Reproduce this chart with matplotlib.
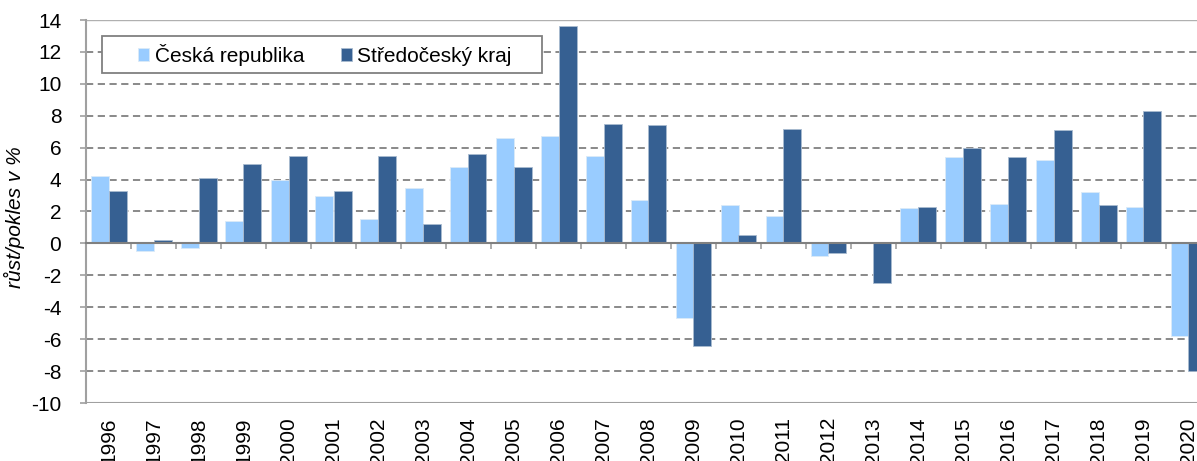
import numpy as np
import matplotlib
matplotlib.use("Agg")
import matplotlib.pyplot as plt
from matplotlib.patches import Rectangle

plt.rcParams['font.family'] = ['Liberation Sans', 'DejaVu Sans']
plt.rcParams['axes.unicode_minus'] = False

years = [str(y) for y in range(1996, 2021)]
cr = [4.2, -0.5, -0.3, 1.4, 4.0, 3.0, 1.5, 3.5, 4.8, 6.6, 6.7, 5.5, 2.7, -4.7,
      2.4, 1.7, -0.8, 0.0, 2.2, 5.4, 2.5, 5.2, 3.2, 2.3, -5.8]
stc = [3.3, 0.2, 4.1, 5.0, 5.5, 3.3, 5.5, 1.2, 5.6, 4.8, 13.6, 7.5, 7.4, -6.4,
       0.5, 7.2, -0.6, -2.5, 2.3, 6.0, 5.4, 7.1, 2.4, 8.3, -8.0]
labels = ['Česká republika', 'Středočeský kraj']
light = '#99CCFF'
dark = '#366092'
gray = '#808080'

fig = plt.figure(figsize=(11.97, 4.61), dpi=100)
ax = fig.add_axes([86 / 1197, 58 / 461, 1125 / 1197, 383 / 461])

x = np.arange(len(years))
w = 0.4
ax.bar(x - w / 2, cr, w, color=light, edgecolor='#dbeaf7', linewidth=0.6, label=labels[0], zorder=3)
ax.bar(x + w / 2, stc, w, color=dark, edgecolor='#a9bbd0', linewidth=0.6, label=labels[1], zorder=3)

ax.set_xlim(-0.5, len(years) - 0.5)
ax.set_ylim(-10, 14)
ax.set_yticks(range(-10, 15, 2))
for v in range(-8, 15, 2):
    if v != 0:
        ax.axhline(v, color=gray, lw=1.3, linestyle=(0, (4, 2.5)), zorder=1)
ax.axhline(-10, color='#a0a0a0', lw=1.5, zorder=2)
ax.axhline(14, color='#b0b0b0', lw=1.0, zorder=1)

for s in ['top', 'right']:
    ax.spines[s].set_visible(False)
ax.spines['left'].set_color('#a0a0a0')
ax.spines['left'].set_linewidth(1.5)
ax.spines['bottom'].set_position(('data', 0))
ax.spines['bottom'].set_color(gray)
ax.spines['bottom'].set_linewidth(1.5)
ax.spines['bottom'].set_zorder(4)

ax.set_xticks(x)
ax.set_xticklabels(years, rotation=90, fontsize=15, va='top')
ax.set_xticks(np.arange(len(years) + 1) - 0.5, minor=True)
ax.tick_params(axis='x', which='major', length=0, pad=125)
ax.tick_params(axis='x', which='minor', length=4.3, width=1.2, color='#a0a0a0', direction='out')
ax.tick_params(axis='y', length=4.3, width=1.2, color='#a0a0a0', labelsize=15, pad=13.5)

ax.set_ylabel('růst/pokles v %', fontsize=15, style='italic')
ax.yaxis.set_label_coords(-0.054, 0.486)

# legend box
box = Rectangle((101.7 / 1197, 1 - 73 / 461), 440 / 1197, 37 / 461,
                transform=fig.transFigure, facecolor='white',
                edgecolor=gray, linewidth=1.3, zorder=5, clip_on=False)
ax.add_patch(box)
leg = ax.legend(loc='center left', bbox_to_anchor=(138 / 1197, 1 - 55 / 461),
                bbox_transform=fig.transFigure, ncol=2, fontsize=15,
                frameon=False, handlelength=0.55, handleheight=0.6,
                columnspacing=1.75, handletextpad=0.25,
                borderpad=0, borderaxespad=0)
leg.set_zorder(6)

fig.savefig('out.png', dpi=100)
